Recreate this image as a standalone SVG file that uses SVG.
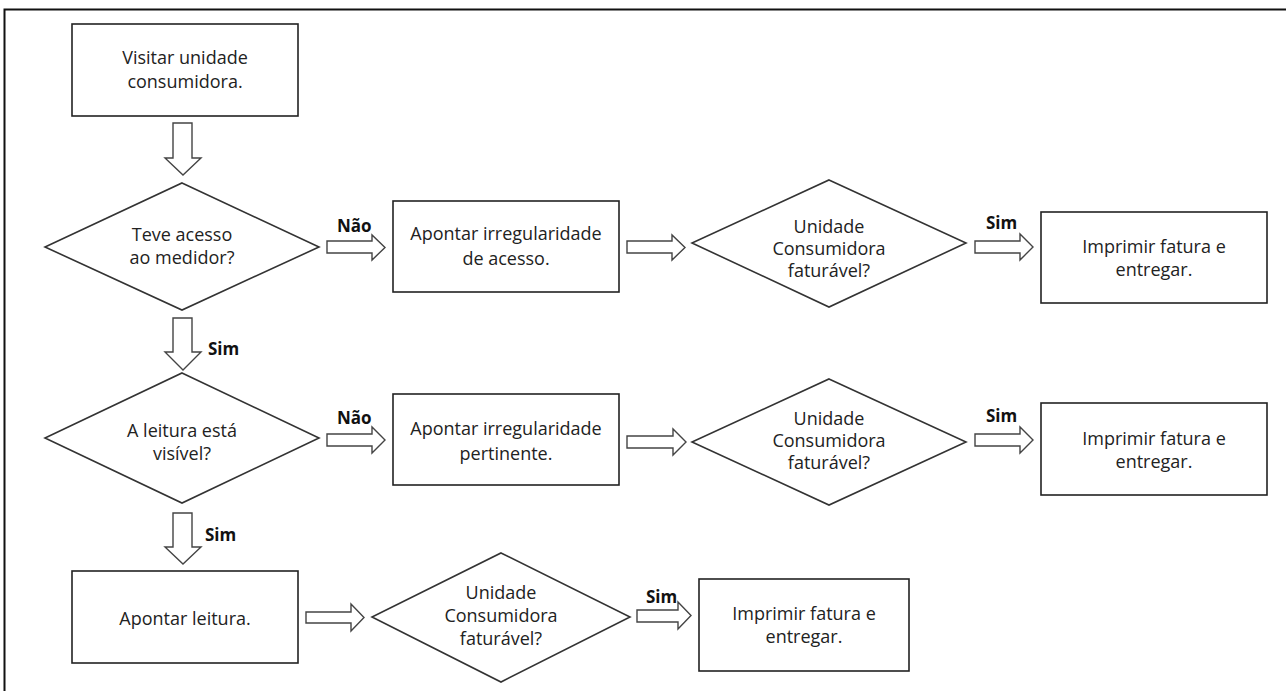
<svg xmlns="http://www.w3.org/2000/svg" width="1286" height="691" viewBox="0 0 1286 691">
<style>
.box{fill:#fff;stroke:#222;stroke-width:1.6}
.dia{fill:#fff;stroke:#333;stroke-width:1.6}
.arr{fill:#fff;stroke:#444;stroke-width:1.4;stroke-linejoin:miter}
.t{font-family:"Open Sans","Liberation Sans",sans-serif;font-size:18px;fill:#222;text-anchor:middle}
.lb{font-family:"Open Sans","Liberation Sans",sans-serif;font-size:17px;font-weight:bold;fill:#111}
.frame{fill:none;stroke:#111;stroke-width:2}
</style>
<rect width="1286" height="691" fill="#fff"/>
<path class="frame" d="M4.5,691 V9.5 H1286"/>

<g id="connectors">
  <!-- down arrows -->
  <path class="arr" d="M173,123 H192 V158 H201 L183,175 L165,158 H173 Z"/>
  <path class="arr" d="M173,318 H192 V352 H201 L183,370 L165,352 H173 Z"/>
  <path class="arr" d="M173,513 H192 V547 H201 L183,564 L165,547 H173 Z"/>
  <!-- row 1 -->
  <path class="arr" d="M327,241 H372 V235 L385,247.5 L372,260 V253 H327 Z"/>
  <path class="arr" d="M627,241 H672 V235 L685,247.5 L672,260 V253 H627 Z"/>
  <path class="arr" d="M975,241 H1020 V234 L1033,247 L1020,260 V253 H975 Z"/>
  <!-- row 2 -->
  <path class="arr" d="M327,434 H372 V427 L385,440 L372,453 V446 H327 Z"/>
  <path class="arr" d="M627,436 H673 V429 L686,442 L673,455 V448 H627 Z"/>
  <path class="arr" d="M975,434 H1020 V427 L1033,440 L1020,453 V446 H975 Z"/>
  <!-- row 3 -->
  <path class="arr" d="M306,612 H351 V604 L364,617.5 L351,631 V623 H306 Z"/>
  <path class="arr" d="M637,610 H678 V602 L691,615.5 L678,629 V622 H637 Z"/>
  <!-- labels -->
  <text class="lb" x="337" y="232">Não</text>
  <text class="lb" x="208" y="355">Sim</text>
  <text class="lb" x="986" y="229">Sim</text>
  <text class="lb" x="337" y="424">Não</text>
  <text class="lb" x="986" y="422">Sim</text>
  <text class="lb" x="205" y="541">Sim</text>
  <text class="lb" x="646" y="603">Sim</text>
</g>

<g id="n1">
  <rect class="box" x="72" y="24" width="226" height="92"/>
  <text class="t" x="185" y="64">Visitar unidade</text>
  <text class="t" x="185" y="88">consumidora.</text>
</g>

<g id="d1">
  <polygon class="dia" points="182,183 319,247 182,310 45,247"/>
  <text class="t" x="182" y="241">Teve acesso</text>
  <text class="t" x="182" y="264">ao medidor?</text>
</g>

<g id="n2">
  <rect class="box" x="393" y="201" width="226" height="91"/>
  <text class="t" x="506" y="240">Apontar irregularidade</text>
  <text class="t" x="506" y="265">de acesso.</text>
</g>

<g id="d2">
  <polygon class="dia" points="829,180 966,243 829,307 692,243"/>
  <text class="t" x="829" y="233">Unidade</text>
  <text class="t" x="829" y="255">Consumidora</text>
  <text class="t" x="829" y="277">faturável?</text>
</g>

<g id="n3">
  <rect class="box" x="1041" y="212" width="226" height="91"/>
  <text class="t" x="1154" y="253">Imprimir fatura e</text>
  <text class="t" x="1154" y="276">entregar.</text>
</g>

<g id="d3">
  <polygon class="dia" points="182,373 319,438 182,503 45,438"/>
  <text class="t" x="182" y="437">A leitura está</text>
  <text class="t" x="182" y="460">visível?</text>
</g>

<g id="n4">
  <rect class="box" x="393" y="394" width="226" height="91"/>
  <text class="t" x="506" y="435">Apontar irregularidade</text>
  <text class="t" x="506" y="460">pertinente.</text>
</g>

<g id="d4">
  <polygon class="dia" points="829,379 966,442 829,505 692,442"/>
  <text class="t" x="829" y="425">Unidade</text>
  <text class="t" x="829" y="447">Consumidora</text>
  <text class="t" x="829" y="469">faturável?</text>
</g>

<g id="n5">
  <rect class="box" x="1041" y="403" width="226" height="92"/>
  <text class="t" x="1154" y="445">Imprimir fatura e</text>
  <text class="t" x="1154" y="468">entregar.</text>
</g>

<g id="n6">
  <rect class="box" x="72" y="571" width="226" height="92"/>
  <text class="t" x="185" y="625">Apontar leitura.</text>
</g>

<g id="d5">
  <polygon class="dia" points="501,553 630,617 501,682 372,617"/>
  <text class="t" x="501" y="599">Unidade</text>
  <text class="t" x="501" y="622">Consumidora</text>
  <text class="t" x="501" y="645">faturável?</text>
</g>

<g id="n7">
  <rect class="box" x="699" y="579" width="210" height="92"/>
  <text class="t" x="804" y="620">Imprimir fatura e</text>
  <text class="t" x="804" y="643">entregar.</text>
</g>
</svg>
